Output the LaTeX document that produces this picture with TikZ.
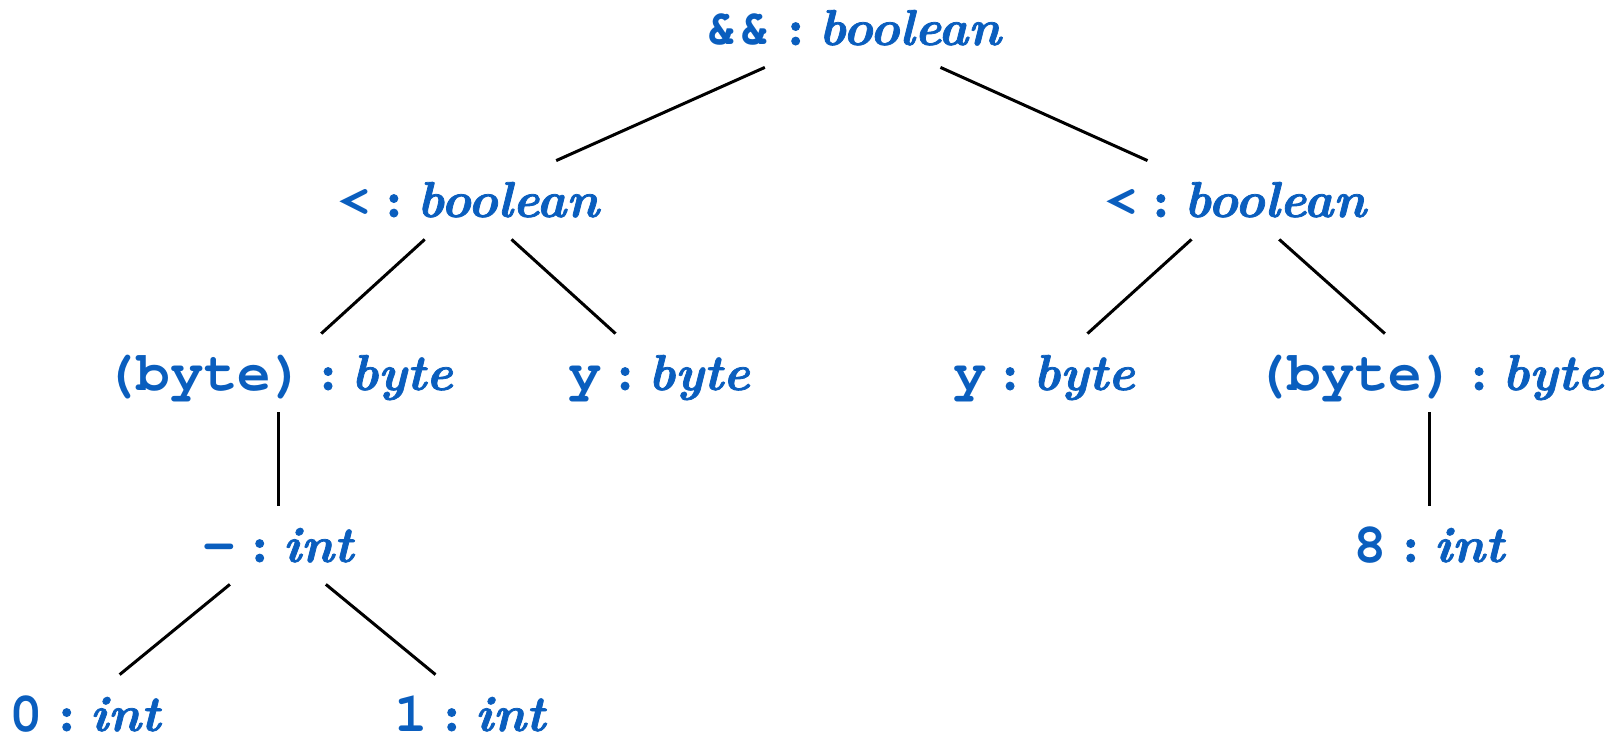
\documentclass[tikz,border=0pt]{standalone}
\usepackage{fontspec}
\newfontfamily\typefont{lmroman10-bolditalic.otf}[RawFeature={embolden=1.5}]
\newfontfamily\colonfont{lmroman10-bold.otf}[RawFeature={embolden=2}]
% bold Courier for the code part
\newcommand\codefont{\fontencoding{T1}\fontfamily{pcr}\fontseries{b}\fontsize{28}{30}\selectfont}
\definecolor{typeblue}{RGB}{10,94,190}
% a typed expression: code in bold mono, then its type in bold italic
\newcommand\typed[2]{{\codefont #1}\ {\colonfont :}\ {\typefont #2}}
\begin{document}
\begin{tikzpicture}[x=0.5pt,y=-0.5pt,
  term/.style={anchor=base, text=typeblue, font=\fontsize{25.2}{30}\selectfont,
    inner xsep=2pt, inner ysep=4pt, text height=24pt, text depth=7pt},
  leaf/.style={term, inner ysep=0pt, text height=28pt, text depth=0pt},
  edge/.style={line width=1.5pt}]
\useasboundingbox (0,0) rectangle (1612,738);

\node[term] (root)  at (853,45)  {\typed{\&\&}{boolean}};
\node[term] (lt)    at (468,217) {\typed{<}{boolean}};
\node[term] (rt)    at (1235,217) {\typed{<}{boolean}};
\node[term] (lcast) at (278,390) {\typed{(byte)}{byte}};
\node[term] (ly)    at (659,390) {\typed{y}{byte}};
\node[term] (ry)    at (1044,390) {\typed{y}{byte}};
\node[term] (rcast) at (1429,390) {\typed{(byte)}{byte}};
\node[term] (minus) at (278,562) {\typed{-}{int}};
\node[term] (eight) at (1429,562) {\typed{8}{int}};
\node[leaf] (zero)  at (85,731)  {\typed{0}{int}};
\node[leaf] (one)   at (470,731) {\typed{1}{int}};

\draw[edge] (root) -- (lt);
\draw[edge] (root) -- (rt);
\draw[edge] (lt) -- (lcast);
\draw[edge] (lt) -- (ly);
\draw[edge] (rt) -- (ry);
\draw[edge] (rt) -- (rcast);
\draw[edge] (lcast) -- (minus);
\draw[edge] (rcast) -- (eight);
\draw[edge] (minus) -- (zero);
\draw[edge] (minus) -- (one);
\end{tikzpicture}
\end{document}
